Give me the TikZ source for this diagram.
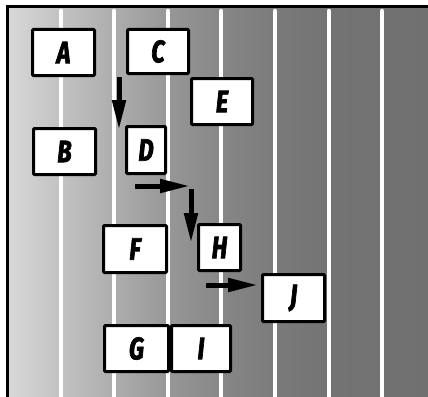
\documentclass[tikz,border=0pt]{standalone}
\usepackage{fontspec}
\newfontfamily\comicfont[FakeStretch=0.76,FakeBold=2.2]{Fira Sans}
\usetikzlibrary{arrows.meta,calc}
\definecolor{g1}{HTML}{D8D8D8}
\definecolor{g2}{HTML}{C2C2C2}
\definecolor{g3}{HTML}{ADADAD}
\definecolor{g4}{HTML}{979797}
\definecolor{g5}{HTML}{878787}
\definecolor{g6}{HTML}{7B7B7B}
\definecolor{g7}{HTML}{737373}
\definecolor{g8}{HTML}{707070}
\tikzset{
  panel/.style={draw=black, line width=3pt, fill=white, rounded corners=1pt, inner sep=0pt,
    font=\comicfont\bfseries\itshape\fontsize{31}{31}\selectfont},
  bigarrow/.style={line width=5pt, -{Triangle[length=30pt,width=13pt]}},
  stripe/.style={white, line width=4.5pt, line cap=round}
}
\begin{document}
\begin{tikzpicture}[x=1pt,y=-1pt]
\useasboundingbox (0,0) rectangle (428,396);
% background gradient bands
\shade[left color=g1,right color=g2] (7,6) rectangle (61,400);
\shade[left color=g2,right color=g3] (61,6) rectangle (114,400);
\shade[left color=g3,right color=g4] (114,6) rectangle (168,400);
\shade[left color=g4,right color=g5] (168,6) rectangle (221,400);
\shade[left color=g5,right color=g6] (221,6) rectangle (275,400);
\shade[left color=g6,right color=g7] (275,6) rectangle (329,400);
\shade[left color=g7,right color=g8] (329,6) rectangle (432,400);
% white stripes
\foreach \x in {61,114,168,221,275,329,382}
  \draw[stripe] (\x,11) -- (\x,402);
% frame
\draw[line width=2.2pt] (7.5,410) -- (7.5,6.5) -- (440,6.5);
% panels
\node[panel, minimum width=62pt, minimum height=46pt] (A) at (63.5,52.5) {A};
\node[panel, minimum width=61pt, minimum height=44pt] (C) at (158,51.5) {C};
\node[panel, minimum width=61pt, minimum height=46pt] (E) at (222,101.5) {E};
\node[panel, minimum width=62pt, minimum height=46pt] (B) at (64.5,151.5) {B};
\node[panel, minimum width=39pt, minimum height=47pt] (D) at (146,150) {D};
\node[panel, minimum width=63pt, minimum height=47pt] (F) at (135,249) {F};
\node[panel, minimum width=42pt, minimum height=46pt] (H) at (219.5,247.5) {H};
\node[panel, minimum width=62pt, minimum height=47pt] (J) at (293.5,298) {J};
\node[panel, minimum width=64pt, minimum height=46pt] (G) at (136.5,348.5) {G};
\node[panel, minimum width=59pt, minimum height=46pt] (I) at (201,348.5) {I};
% arrows
\draw[bigarrow] ($(C.south west)+(-7,2)$) -- ++(0,53);
\draw[bigarrow] ($(D.south west)+(10,11)$) -- ++(55,0);
\draw[bigarrow] ($(H.north west)+(-6,-34)$) -- ++(0,54);
\draw[bigarrow] ($(H.south west)+(9,13)$) -- ++(52,0);
\end{tikzpicture}
\end{document}
